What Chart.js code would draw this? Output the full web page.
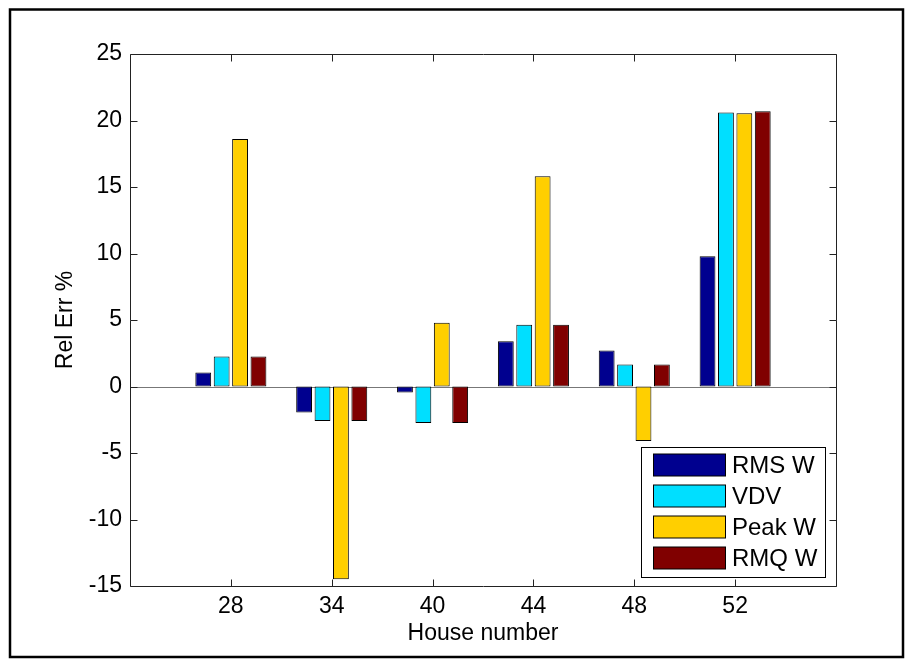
<!DOCTYPE html>
<html>
<head>
<meta charset="utf-8">
<script src="https://cdn.jsdelivr.net/npm/chart.js@4/dist/chart.umd.min.js"></script>
<style>
  html, body { margin: 0; padding: 0; background: #fff; }
  #wrap { width: 912px; height: 660px; }
</style>
</head>
<body>
<div id="wrap"><canvas id="c" width="912" height="660"></canvas></div>
<script>
// House numbers along the x axis
const houses = ['28', '34', '40', '44', '48', '52'];

// Relative error (%) per metric and house
const rmsW  = [1.05, -1.95, -0.45, 3.4, 2.7, 9.8];
const vdv   = [2.25, -2.6, -2.75, 4.65, 1.65, 20.6];
const peakW = [18.6, -14.5, 4.8, 15.8, -4.1, 20.55];
const rmqW  = [2.25, -2.6, -2.75, 4.65, 1.65, 20.7];

// Y axis range and tick step
const yMin = -15, yMax = 25, yStep = 5;

const seriesNames  = ['RMS W', 'VDV', 'Peak W', 'RMQ W'];
const seriesColors = ['#00008F', '#00DFFF', '#FFCF00', '#800000'];
const seriesValues = [rmsW, vdv, peakW, rmqW];

const FONT = '"Liberation Sans", Arial, Helvetica, sans-serif';
const FSIZE = 23;

// Empty slots at both ends give the axis half-open margins left and right.
const labels = [''].concat(houses, ['']);
const pad = arr => [null].concat(arr, [null]);

const datasets = seriesValues.map((vals, i) => ({
  label: seriesNames[i],
  data: pad(vals),
  backgroundColor: seriesColors[i],
  borderColor: '#000',
  borderWidth: 1,
  borderSkipped: false,
  categoryPercentage: 0.73,
  barPercentage: 0.86
}));

// Figure frame, axes box, inward ticks, zero baseline and the legend box.
const decor = {
  id: 'decor',
  beforeDraw(chart) {
    const ctx = chart.ctx;
    ctx.save();
    ctx.fillStyle = '#fff';
    ctx.fillRect(0, 0, chart.width, chart.height);
    ctx.strokeStyle = '#000';
    ctx.lineWidth = 2.5;
    ctx.strokeRect(10, 9.5, 893, 647.5);
    ctx.restore();
  },
  beforeDatasetsDraw(chart) {
    const {ctx, chartArea: a, scales: {x, y}} = chart;
    ctx.save();
    ctx.strokeStyle = '#777';
    ctx.lineWidth = 1;
    const y0 = Math.round(y.getPixelForValue(0)) + 0.5;
    ctx.beginPath();
    ctx.moveTo(a.left, y0);
    ctx.lineTo(a.right, y0);
    ctx.stroke();
    ctx.restore();
  },
  afterDatasetsDraw(chart) {
    const {ctx, chartArea: a, scales: {x, y}} = chart;
    const L = Math.round(a.left) + 0.5, R = Math.round(a.right) + 0.5;
    const T = Math.round(a.top) + 0.5, B = Math.round(a.bottom) + 0.5;
    const tl = 7;
    ctx.save();
    ctx.strokeStyle = '#222';
    ctx.lineWidth = 1;
    ctx.beginPath();
    ctx.rect(L, T, R - L, B - T);
    for (let i = 1; i <= houses.length; i++) {
      const px = Math.round(x.getPixelForValue(i)) + 0.5;
      ctx.moveTo(px, B); ctx.lineTo(px, B - tl);
      ctx.moveTo(px, T); ctx.lineTo(px, T + tl);
    }
    for (let v = yMin; v <= yMax; v += yStep) {
      const py = Math.round(y.getPixelForValue(v)) + 0.5;
      ctx.moveTo(L, py); ctx.lineTo(L + tl, py);
      ctx.moveTo(R, py); ctx.lineTo(R - tl, py);
    }
    ctx.stroke();

    // legend
    const bx = 641.5, by = 447.5, bw = 184, bh = 130;
    ctx.fillStyle = '#fff';
    ctx.fillRect(bx, by, bw, bh);
    ctx.strokeStyle = '#000';
    ctx.strokeRect(bx, by, bw, bh);
    ctx.font = `${FSIZE + 1}px ${FONT}`;
    ctx.textBaseline = 'middle';
    ctx.textAlign = 'left';
    chart.data.datasets.forEach((ds, i) => {
      const cy = 465 + i * 31;
      ctx.fillStyle = ds.backgroundColor;
      ctx.fillRect(653.5, cy - 11, 72, 22);
      ctx.strokeStyle = '#000';
      ctx.strokeRect(653.5, cy - 11, 72, 22);
      ctx.fillStyle = '#000';
      ctx.fillText(ds.label, 732, cy + 1);
    });
    ctx.restore();
  }
};

new Chart(document.getElementById('c'), {
  type: 'bar',
  data: { labels, datasets },
  options: {
    responsive: false,
    animation: false,
    layout: { padding: { top: 54, right: 76, bottom: 0, left: 0 } },
    plugins: { legend: { display: false }, tooltip: { enabled: false } },
    scales: {
      x: {
        type: 'category',
        offset: false,
        grid: { display: false, drawTicks: false, offset: false },
        border: { display: false },
        ticks: {
          color: '#000',
          font: { family: FONT, size: FSIZE },
          padding: 7,
          maxRotation: 0,
          autoSkip: false
        },
        title: {
          display: true,
          text: 'House number',
          color: '#000',
          font: { family: FONT, size: FSIZE },
          padding: { top: 0, bottom: 13 }
        },
        afterFit(scale) { scale.height = 74; }
      },
      y: {
        min: yMin,
        max: yMax,
        grid: { display: false, drawTicks: false },
        border: { display: false },
        ticks: {
          stepSize: yStep,
          color: '#000',
          font: { family: FONT, size: FSIZE },
          padding: 8
        },
        title: {
          display: true,
          text: 'Rel Err %',
          color: '#000',
          font: { family: FONT, size: FSIZE },
          padding: { top: 52, bottom: 0 }
        },
        afterFit(scale) { scale.width = 130; }
      }
    }
  },
  plugins: [decor]
});
</script>
</body>
</html>
